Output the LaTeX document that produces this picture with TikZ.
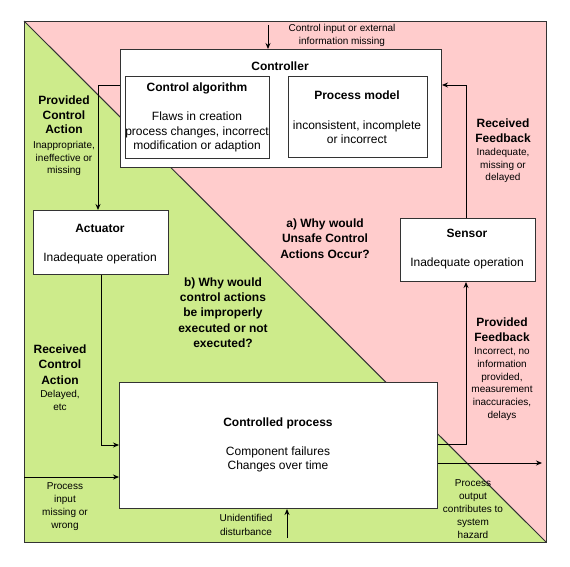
\documentclass[tikz,border=0pt]{standalone}
\usepackage{fontspec}
\setmainfont{Liberation Sans}
\usetikzlibrary{arrows.meta}
\definecolor{lime}{HTML}{CDEB8B}
\definecolor{rose}{HTML}{FFCCCC}
\definecolor{edge}{HTML}{333333}
\tikzset{
  x=1pt, y=-1pt,
  box/.style={draw=edge, fill=white, line width=1pt, inner sep=0pt, anchor=north west},
  ttl/.style={font=\fontsize{12}{14}\selectfont\bfseries, inner sep=0pt, align=center},
  bodytxt/.style={font=\fontsize{12}{14.2}\selectfont, inner sep=0pt, align=center},
  lbl/.style={font=\fontsize{10}{12.8}\selectfont, inner sep=0pt, align=center},
  qtxt/.style={font=\fontsize{12}{15.3}\selectfont\bfseries, inner sep=0pt, align=center},
  arr/.style={-{Stealth[length=6pt,width=5pt]}, line width=0.9pt, draw=black},
  ln/.style={line width=0.9pt, draw=black}
}
\begin{document}
\begin{tikzpicture}
\useasboundingbox (0,0) rectangle (570,566);
% background triangles
\fill[lime] (24,21) -- (24,542) -- (546,542) -- cycle;
\fill[rose] (24,21) -- (546,21) -- (546,542) -- cycle;
\draw[edge, line width=1pt] (24,21) -- (546,542);
\draw[edge, line width=1pt] (24,21) rectangle (546,542);

% boxes
\node[box, minimum width=321pt, minimum height=118pt] (ctrl) at (120,49) {};
\node[box, minimum width=144pt, minimum height=82pt] (calg) at (125,76) {};
\node[box, minimum width=139pt, minimum height=81pt] (pmod) at (288,76) {};
\node[box, minimum width=135pt, minimum height=64pt] (act) at (33,210) {};
\node[box, minimum width=135pt, minimum height=63pt] (sens) at (400,218) {};
\node[box, minimum width=318pt, minimum height=126pt] (cp) at (119,382) {};

% box texts
\node[ttl] (tctrl) at (280,66) {Controller};
\node[ttl] (tcalg) at (197,88) {Control algorithm};
\node[bodytxt] (bcalg) at (197,132) {Flaws in creation\\process changes, incorrect\\modification or adaption};
\node[ttl] (tpmod) at (357,95) {Process model};
\node[bodytxt] (bpmod) at (357,132.5) {inconsistent, incomplete\\or incorrect};
\node[ttl] (tact) at (100,228) {Actuator};
\node[bodytxt] (bact) at (100,258) {Inadequate operation};
\node[ttl] (tsens) at (467,233) {Sensor};
\node[bodytxt] (bsens) at (467,263) {Inadequate operation};
\node[ttl] (tcp) at (278,423) {Controlled process};
\node[bodytxt] (bcp) at (278,459.5) {Component failures\\Changes over time};

% connectors
\coordinate (cin) at (268,25);
\draw[arr] (cin) -- (ctrl.north -| cin);
\draw[arr] (ctrl.west |- 0,85) -| (act.north -| 98,0);
\draw[arr] (act.south -| 101,0) |- (cp.west |- 0,445);
\draw[arr] (cp.east |- 0,444) -| (sens.south -| 466,0);
\draw[arr] (sens.north -| 466,0) |- (ctrl.east |- 0,85);
\coordinate (pin) at (24,477);
\draw[arr] (pin) -- (cp.west |- pin);
\coordinate (dist) at (287,538);
\draw[arr] (dist) -- (cp.south -| dist);
\coordinate (pout) at (542,463);
\draw[arr] (cp.east |- pout) -- (pout);

% labels
\node[lbl] (lcin) at (342,35.5) {Control input or external\\information missing};
\node[ttl, font=\fontsize{12}{14.5}\selectfont\bfseries] (lpca) at (64,115) {Provided\\Control\\Action};
\node[lbl] (lpcab) at (64,158.5) {Inappropriate,\\ineffective or\\missing};
\node[ttl, font=\fontsize{12}{14.5}\selectfont\bfseries] (lrf) at (503,130.5) {Received\\Feedback};
\node[lbl] (lrfb) at (503,165.5) {Inadequate,\\missing or\\delayed};
\node[qtxt] (qa) at (325,238.5) {a) Why would\\Unsafe Control\\Actions Occur?};
\node[qtxt] (qb) at (223,312.5) {b) Why would\\control actions\\be improperly\\executed or not\\executed?};
\node[ttl, font=\fontsize{12}{14.5}\selectfont\bfseries] (lpf) at (502,329.5) {Provided\\Feedback};
\node[lbl] (lpfb) at (502,384) {Incorrect, no\\information\\provided,\\measurement\\inaccuracies,\\delays};
\node[ttl, font=\fontsize{12}{15.5}\selectfont\bfseries] (lrca) at (60,364.5) {Received\\Control\\Action};
\node[lbl] (lrcab) at (60,400.5) {Delayed,\\etc};
\node[lbl] (lpin) at (65,506.5) {Process\\input\\missing or\\wrong};
\node[lbl, font=\fontsize{10}{14}\selectfont] (ldist) at (246,524.5) {Unidentified\\disturbance};
\node[lbl] (lpout) at (473,509) {Process\\output\\contributes to\\system\\hazard};
\end{tikzpicture}
\end{document}
